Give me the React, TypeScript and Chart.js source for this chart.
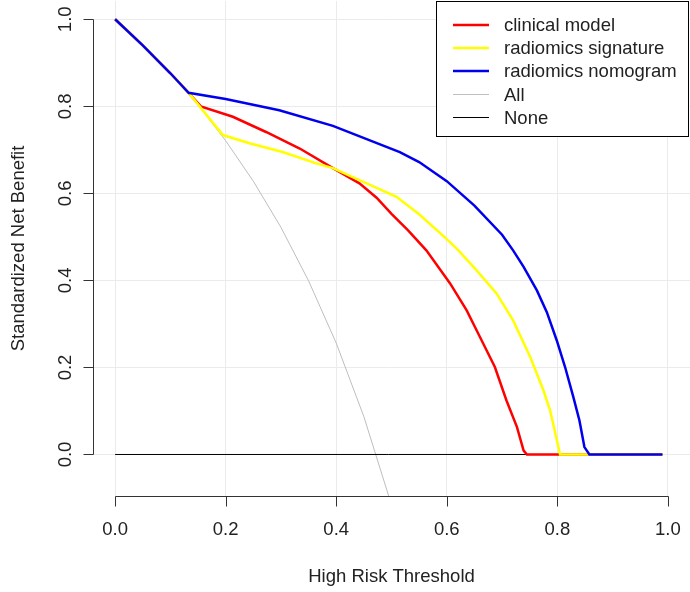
import React, { useEffect, useRef } from "react";
import { Chart, registerables } from "chart.js";

Chart.register(...registerables);

// ---- data ----
const tickValues = [0, 0.2, 0.4, 0.6, 0.8, 1.0];
const tickLabels = ["0.0", "0.2", "0.4", "0.6", "0.8", "1.0"];

const seriesNames = ["clinical model", "radiomics signature", "radiomics nomogram", "All", "None"];

const clinicalX = [0, 0.05, 0.1, 0.133, 0.155, 0.213, 0.273, 0.334, 0.394, 0.442, 0.473, 0.5, 0.53, 0.563, 0.606, 0.636, 0.66, 0.687, 0.708, 0.727, 0.739, 0.745, 0.99];
const clinicalY = [1.0, 0.94, 0.876, 0.831, 0.8, 0.776, 0.741, 0.703, 0.658, 0.623, 0.59, 0.553, 0.515, 0.469, 0.393, 0.331, 0.27, 0.201, 0.124, 0.063, 0.009, 0, 0];

const signatureX = [0, 0.05, 0.1, 0.133, 0.195, 0.243, 0.303, 0.364, 0.394, 0.455, 0.509, 0.55, 0.6, 0.621, 0.654, 0.69, 0.72, 0.751, 0.775, 0.787, 0.805, 0.99];
const signatureY = [1.0, 0.94, 0.876, 0.831, 0.734, 0.715, 0.695, 0.669, 0.658, 0.623, 0.592, 0.552, 0.495, 0.469, 0.423, 0.37, 0.308, 0.224, 0.147, 0.101, 0, 0];

const nomogramX = [0, 0.05, 0.1, 0.133, 0.2, 0.297, 0.394, 0.515, 0.55, 0.6, 0.65, 0.7, 0.72, 0.739, 0.763, 0.781, 0.799, 0.814, 0.829, 0.84, 0.849, 0.858, 0.99];
const nomogramY = [1.0, 0.94, 0.876, 0.831, 0.817, 0.791, 0.755, 0.695, 0.672, 0.628, 0.572, 0.505, 0.469, 0.431, 0.377, 0.327, 0.262, 0.201, 0.132, 0.078, 0.017, 0, 0];

const allX = [0, 0.05, 0.1, 0.15, 0.2, 0.25, 0.3, 0.35, 0.4, 0.45, 0.5];
const allY = [1.0, 0.94, 0.876, 0.803, 0.721, 0.628, 0.522, 0.399, 0.256, 0.087, -0.116];

const noneX = [0, 0.99];
const noneY = [0, 0];

const seriesColors = ["#ff0000", "#ffff00", "#0000ee", "#bebebe", "#000000"];
const seriesWidths = [2.5, 2.5, 2.5, 1, 1];

const FONT = '"Liberation Sans", Arial, Helvetica, sans-serif';
const FS = 18.5;
const TEXT = "#222222";

function pts(xs: number[], ys: number[]) {
  return xs.map((x, i) => ({ x, y: ys[i] }));
}

export default function App() {
  const ref = useRef<HTMLCanvasElement | null>(null);

  useEffect(() => {
    const canvas = ref.current;
    if (!canvas) return;

    const rStyle = {
      id: "rStyle",
      afterDraw(chart: any) {
        const ctx = chart.ctx as CanvasRenderingContext2D;
        const xs = chart.scales.x;
        const ys = chart.scales.y;
        const area = chart.chartArea;
        ctx.save();
        ctx.strokeStyle = "#333333";
        ctx.lineWidth = 1;
        ctx.fillStyle = TEXT;
        ctx.font = `${FS}px ${FONT}`;

        // x axis
        const xb = Math.round(area.bottom) + 0.5;
        const x0 = Math.round(xs.getPixelForValue(tickValues[0])) + 0.5;
        const x1 = Math.round(xs.getPixelForValue(tickValues[tickValues.length - 1])) + 0.5;
        ctx.beginPath();
        ctx.moveTo(x0, xb);
        ctx.lineTo(x1, xb);
        tickValues.forEach((v) => {
          const px = Math.round(xs.getPixelForValue(v)) + 0.5;
          ctx.moveTo(px, xb);
          ctx.lineTo(px, xb + 10);
        });
        ctx.stroke();
        ctx.textAlign = "center";
        ctx.textBaseline = "alphabetic";
        tickValues.forEach((v, i) => {
          ctx.fillText(tickLabels[i], xs.getPixelForValue(v), 535);
        });
        ctx.fillText("High Risk Threshold", (area.left + area.right) / 2, 582);

        // y axis
        const yl = Math.round(area.left) + 0.5;
        const y0 = Math.floor(ys.getPixelForValue(tickValues[0])) + 0.5;
        const y1 = Math.floor(ys.getPixelForValue(tickValues[tickValues.length - 1])) + 0.5;
        ctx.beginPath();
        ctx.moveTo(yl, y0);
        ctx.lineTo(yl, y1);
        tickValues.forEach((v) => {
          const py = Math.floor(ys.getPixelForValue(v)) + 0.5;
          ctx.moveTo(yl, py);
          ctx.lineTo(yl - 10, py);
        });
        ctx.stroke();
        tickValues.forEach((v, i) => {
          ctx.save();
          ctx.translate(71, ys.getPixelForValue(v));
          ctx.rotate(-Math.PI / 2);
          ctx.textAlign = "center";
          ctx.textBaseline = "alphabetic";
          ctx.fillText(tickLabels[i], 0, 0);
          ctx.restore();
        });
        ctx.save();
        ctx.translate(24, (area.top + area.bottom) / 2);
        ctx.rotate(-Math.PI / 2);
        ctx.textAlign = "center";
        ctx.textBaseline = "alphabetic";
        ctx.fillText("Standardized Net Benefit", 0, 0);
        ctx.restore();

        // legend
        const lx = 436.5, ly = 1.5, lw = 252, lh = 135;
        ctx.fillStyle = "#ffffff";
        ctx.fillRect(lx, ly, lw, lh);
        ctx.strokeStyle = "#000000";
        ctx.lineWidth = 1;
        ctx.strokeRect(lx, ly, lw, lh);
        const rows = [25, 48, 71, 94.5, 117.5];
        ctx.textAlign = "left";
        ctx.textBaseline = "middle";
        seriesNames.forEach((name, i) => {
          ctx.strokeStyle = seriesColors[i];
          ctx.lineWidth = seriesWidths[i];
          ctx.beginPath();
          ctx.moveTo(453, rows[i]);
          ctx.lineTo(489, rows[i]);
          ctx.stroke();
          ctx.fillStyle = TEXT;
          ctx.fillText(name, 504, Math.round(rows[i]) + 1);
        });
        ctx.restore();
      },
    };

    const seriesPoints = [
      pts(clinicalX, clinicalY),
      pts(signatureX, signatureY),
      pts(nomogramX, nomogramY),
      pts(allX, allY),
      pts(noneX, noneY),
    ];
    const drawOrder = [2, 1, 0, 4, 3];

    const chart = new Chart(canvas, {
      type: "line",
      data: {
        datasets: seriesNames.map((name, i) => ({
          label: name,
          data: seriesPoints[i],
          borderColor: seriesColors[i],
          backgroundColor: seriesColors[i],
          borderWidth: seriesWidths[i],
          pointRadius: 0,
          fill: false,
          tension: 0,
          order: drawOrder[i],
        })),
      },
      options: {
        responsive: false,
        animation: false,
        layout: { padding: { left: 93, right: 0, top: 1, bottom: 96 } },
        plugins: { legend: { display: false }, tooltip: { enabled: false } },
        scales: {
          x: {
            type: "linear",
            min: -0.04,
            max: 1.04,
            afterBuildTicks: (s: any) => {
              s.ticks = tickValues.map((v) => ({ value: v }));
            },
            ticks: { display: false },
            grid: { color: "#ebebeb", drawTicks: false, lineWidth: 1 },
            border: { display: false },
          },
          y: {
            type: "linear",
            min: -0.09536,
            max: 1.042,
            afterBuildTicks: (s: any) => {
              s.ticks = tickValues.map((v) => ({ value: v }));
            },
            ticks: { display: false },
            grid: { color: "#ebebeb", drawTicks: false, lineWidth: 1 },
            border: { display: false },
          },
        },
      },
      plugins: [rStyle],
    } as any);

    return () => chart.destroy();
  }, []);

  return (
    <div style={{ position: "absolute", left: 0, top: 0, width: 690, height: 592, background: "#ffffff" }}>
      <canvas ref={ref} width={690} height={592} style={{ display: "block" }} />
    </div>
  );
}
